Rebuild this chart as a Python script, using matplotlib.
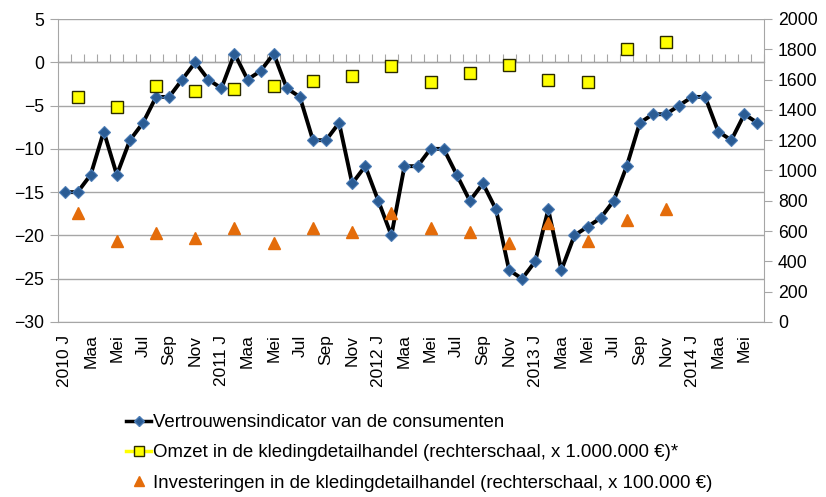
import matplotlib
matplotlib.use("Agg")
import matplotlib.pyplot as plt
from matplotlib.lines import Line2D
import numpy as np

plt.rcParams['font.family'] = ['Liberation Sans', 'DejaVu Sans']

# monthly consumer confidence, Jan 2010 - Jun 2014
confidence = [-15, -15, -13, -8, -13, -9, -7, -4, -4, -2, 0, -2,
              -3, 1, -2, -1, 1, -3, -4, -9, -9, -7, -14, -12,
              -16, -20, -12, -12, -10, -10, -13, -16, -14, -17, -24, -25,
              -23, -17, -24, -20, -19, -18, -16, -12, -7, -6, -6, -5,
              -4, -4, -8, -9, -6, -7]
month_abbr = ["J", "Feb", "Maa", "Apr", "Mei", "Jun", "Jul", "Aug", "Sep", "Okt", "Nov", "Dec"]
years = [2010, 2011, 2012, 2013, 2014]

# quarterly values (plotted at middle month of each quarter), 2010Q1 - 2013Q4
omzet = [1482, 1421, 1559, 1524, 1537, 1555, 1588, 1623,
         1687, 1581, 1641, 1696, 1595, 1586, 1802, 1850]
investeringen = [722, 535, 588, 555, 623, 522, 619, 597,
                 720, 623, 597, 522, 654, 535, 676, 747]

labels_all = []
for i in range(len(confidence)):
    y = years[i // 12]
    m = i % 12
    labels_all.append(f"{y} J" if m == 0 else month_abbr[m])

x = np.arange(len(confidence))
xq = np.arange(len(omzet)) * 3 + 1

W, H = 826, 497
fig = plt.figure(figsize=(W / 100, H / 100), dpi=100)
ax = fig.add_axes([58 / W, 1 - 322 / H, (764 - 58) / W, (322 - 19) / H])
ax2 = ax.twinx()

GRID = "#A6A6A6"
ax.set_xlim(-0.5, len(confidence) - 0.5)
ax.set_ylim(-30, 5)
ax.set_yticks(np.arange(-30, 6, 5))
ax.yaxis.grid(True, color=GRID, linewidth=1)
ax.set_axisbelow(True)
ax2.set_ylim(0, 2000)
ax2.set_yticks(np.arange(0, 2001, 200))

for a in (ax, ax2):
    for s in a.spines.values():
        s.set_visible(False)
ax.spines['left'].set_visible(True)
ax.spines['left'].set_color(GRID)
ax.spines['bottom'].set_visible(True)
ax.spines['bottom'].set_color(GRID)
ax2.spines['right'].set_visible(True)
ax2.spines['right'].set_color(GRID)

ax.tick_params(axis='y', length=6, color=GRID, labelsize=12.7, pad=4)
ax2.tick_params(axis='y', length=6, color=GRID, labelsize=12.7, pad=4)

ax.set_xticks(x[::2])
ax.set_xticklabels(labels_all[::2], rotation=90, fontsize=12.5, va='top', ha='center')
ax.tick_params(axis='x', length=0, pad=9)

# x axis line at 0 with category boundary ticks
sec = ax.secondary_xaxis(30 / 35)
sec.set_xticks(np.arange(-0.5, len(confidence), 1))
sec.set_xticklabels([])
sec.tick_params(axis='x', length=6, color=GRID, direction='out')
sec.spines['bottom'].set_color(GRID)
sec.spines['bottom'].set_linewidth(1.2)

ax.plot(x, confidence, color='black', linewidth=2.8, zorder=3,
        marker='D', markersize=6.5, markerfacecolor='#2B5C94',
        markeredgecolor='#4A7BB5', markeredgewidth=0.8)
ax2.plot(xq, omzet, linestyle='none', marker='s', markersize=8.5,
         markerfacecolor='#FFFF00', markeredgecolor='#2B2B00', markeredgewidth=1.0, zorder=4)
ax2.plot(xq, investeringen, linestyle='none', marker='^', markersize=8.5,
         markerfacecolor='#E46C0A', markeredgecolor='#E46C0A', zorder=4)

handles = [
    Line2D([], [], color='black', linewidth=2.5, marker='D', markersize=5,
           markerfacecolor='#2B5C94', markeredgecolor='#4A7BB5'),
    Line2D([], [], color='#FFFF00', linewidth=2.5, marker='s', markersize=7.5,
           markerfacecolor='#FFFF00', markeredgecolor='#2B2B00'),
    Line2D([], [], linestyle='none', marker='^', markersize=7,
           markerfacecolor='#E46C0A', markeredgecolor='#E46C0A'),
]
labels = [
    "Vertrouwensindicator van de consumenten",
    "Omzet in de kledingdetailhandel (rechterschaal, x 1.000.000 €)*",
    "Investeringen in de kledingdetailhandel (rechterschaal, x 100.000 €)",
]
fig.legend(handles, labels, loc='upper left', bbox_to_anchor=(126 / W, 1 - 414 / H),
           frameon=False, fontsize=13.4, handlelength=1.35, handletextpad=0.1,
           labelspacing=0.72, borderaxespad=0, borderpad=0)

fig.savefig("out.png", dpi=100)
